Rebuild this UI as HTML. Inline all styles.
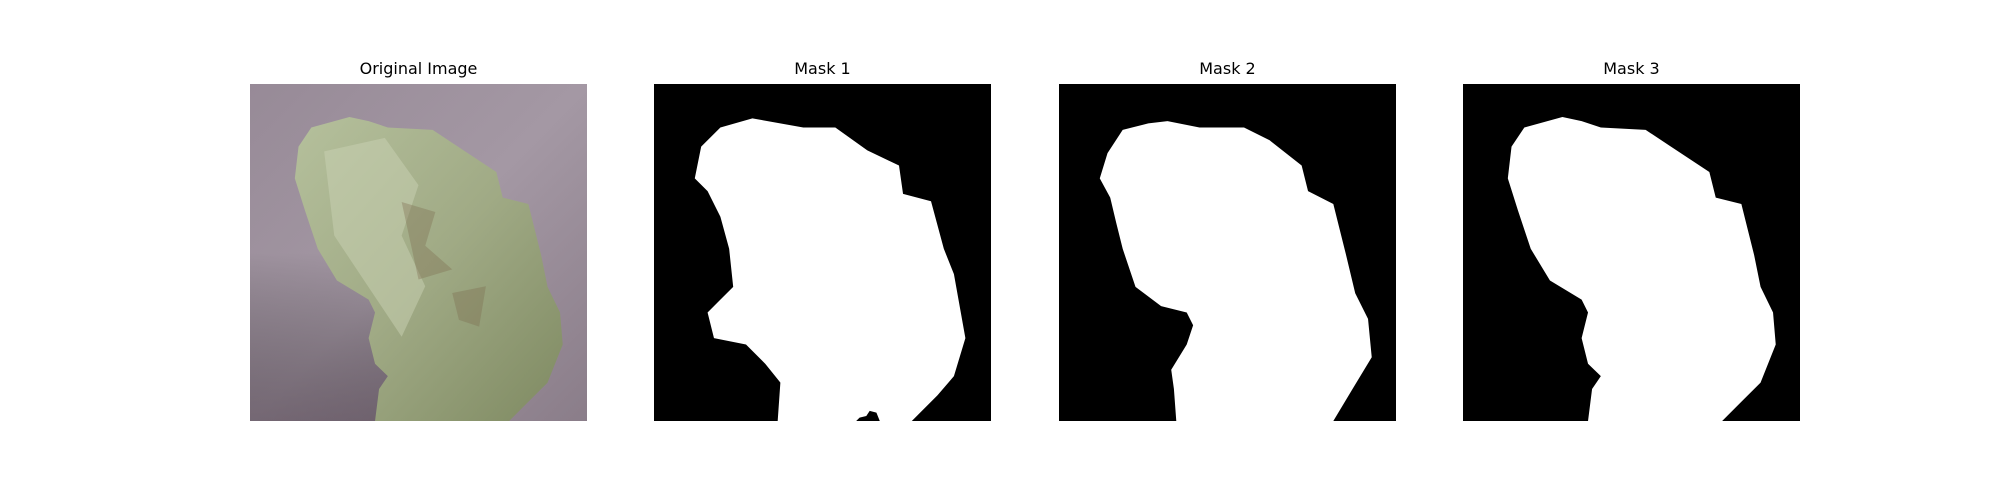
<!DOCTYPE html>
<html><head><meta charset="utf-8"><style>
body{margin:0;background:#fff;width:2000px;height:500px;overflow:hidden;font-family:"DejaVu Sans","Liberation Sans",sans-serif;}
.ax{position:absolute;top:84px;width:337px;height:337px;}
.t{position:absolute;top:59px;width:337px;text-align:center;font-size:16px;color:#000;}
svg{display:block}
</style></head><body>
<div class="t" style="left:250px">Original Image</div>
<div class="t" style="left:654px">Mask 1</div>
<div class="t" style="left:1059px">Mask 2</div>
<div class="t" style="left:1463px">Mask 3</div>

<div class="ax" style="left:250px">
<svg width="337" height="337" viewBox="0 0 100 100" preserveAspectRatio="none">
<defs>
<linearGradient id="bg" x1="0" y1="0" x2="1" y2="1"><stop offset="0" stop-color="#978a97"/><stop offset="0.5" stop-color="#a498a4"/><stop offset="1" stop-color="#8a7d89"/></linearGradient>
<linearGradient id="lf" x1="0" y1="0" x2="1" y2="1"><stop offset="0" stop-color="#b5c09c"/><stop offset="0.5" stop-color="#a0aa85"/><stop offset="1" stop-color="#7f8a62"/></linearGradient>
<linearGradient id="sh" x1="0" y1="0" x2="0" y2="1"><stop offset="0" stop-color="#000" stop-opacity="0"/><stop offset="1" stop-color="#3a2c38" stop-opacity="0.45"/></linearGradient>
</defs>
<rect width="100" height="100" fill="url(#bg)"/>
<rect x="0" y="50" width="45" height="50" fill="url(#sh)"/>
<path fill="url(#lf)" d="M18.2,12.9 L29.5,9.8 35.2,11 40.9,12.9 54.2,13.6 61.7,18.6 73.1,26.1 75,33.7 82.6,35.6 84.5,43.2 86.4,50.8 88.3,60.2 92,67.8 92.8,77.3 88.3,88.6 82.6,94.3 76.9,100 37.1,100 38.3,90.5 40.9,86.7 37.1,83 35.2,75.4 37.1,67.8 35.2,64 25.8,58.3 20.1,48.9 16.3,37.5 13.3,28 14.4,18.6Z"/>
<path fill="#c9d1b4" opacity="0.5" d="M22,20 L40,16 50,30 45,45 52,60 45,75 35,60 25,45Z"/>
<path fill="#7a6a4c" opacity="0.35" d="M45,35 L55,38 52,48 60,55 50,58Z M60,62 L70,60 68,72 62,70Z"/>
</svg></div>

<div class="ax" style="left:654px;background:#000">
<svg width="337" height="337" viewBox="0 0 100 100" preserveAspectRatio="none">
<path fill="#fff" d="M19.7,12.9 L29.2,10.2 44.3,12.9 53.8,12.9 63.3,19.7 72.7,24.2 73.9,32.6 82.2,34.8 86,48.9 89,56.4 92.4,75.4 89,86.7 84.1,92.4 76.5,100 36.7,100 37.5,88.6 33,83 27.3,77.3 17.8,75.4 15.9,67.8 19.7,64 23.5,60.2 22.3,48.9 19.7,39.4 15.9,31.8 12.1,28 14,18.6Z"/>
<path fill="#000" d="M61,99 L63,98.5 64,97 66,97.5 67,100 60,100Z"/>
</svg></div>

<div class="ax" style="left:1059px;background:#000">
<svg width="337" height="337" viewBox="0 0 100 100" preserveAspectRatio="none">
<path fill="#fff" d="M18.9,13.6 L26.5,11.7 32.2,11 41.7,12.9 54.9,12.9 62.5,16.7 72,24.2 73.9,31.8 81.4,35.6 83.3,43.2 85.2,50.8 87.9,62.1 91.7,69.7 92.8,81.1 87.1,90.5 81.4,100 34.8,100 34.1,90.5 33.3,84.8 37.9,77.3 39.8,71.6 37.9,67.8 30.3,65.9 22.7,60.2 18.9,48.9 17,41.3 15.2,33.7 12.1,28 14.4,20.5Z"/>
</svg></div>

<div class="ax" style="left:1463px;background:#000">
<svg width="337" height="337" viewBox="0 0 100 100" preserveAspectRatio="none">
<path fill="#fff" d="M18.2,12.9 L29.5,9.8 35.2,11 40.9,12.9 54.2,13.6 61.7,18.6 73.1,26.1 75,33.7 82.6,35.6 84.5,43.2 86.4,50.8 88.3,60.2 92,67.8 92.8,77.3 88.3,88.6 82.6,94.3 76.9,100 37.1,100 38.3,90.5 40.9,86.7 37.1,83 35.2,75.4 37.1,67.8 35.2,64 25.8,58.3 20.1,48.9 16.3,37.5 13.3,28 14.4,18.6Z"/>
</svg></div>
</body></html>
